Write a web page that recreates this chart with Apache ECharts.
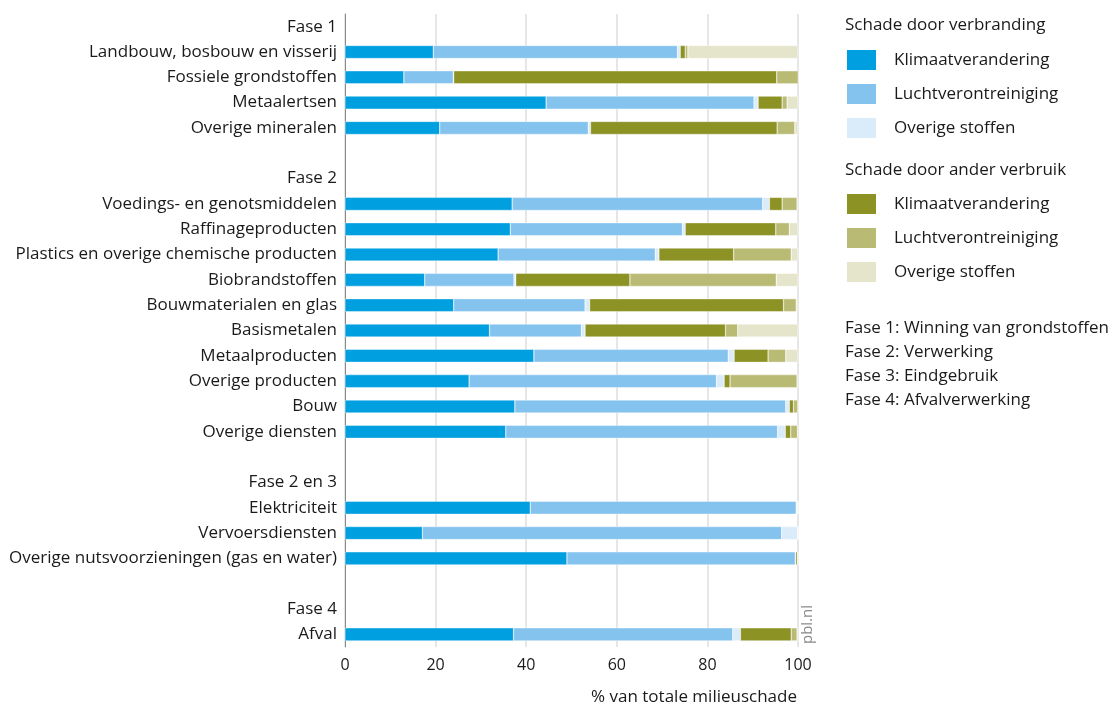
<!DOCTYPE html>
<html>
<head>
<meta charset="utf-8">
<script src="https://cdn.jsdelivr.net/npm/echarts@6/dist/echarts.min.js"></script>
<style>html,body{margin:0;padding:0;background:#fff}#c{width:1110px;height:706px}</style>
</head>
<body>
<div id="c"></div>
<script>
// Categories (headers and blank spacer rows included; spacers are whitespace strings)
const categories = [
  'Fase 1',
  'Landbouw, bosbouw en visserij',
  'Fossiele grondstoffen',
  'Metaalertsen',
  'Overige mineralen',
  ' ',
  'Fase 2',
  'Voedings- en genotsmiddelen',
  'Raffinageproducten',
  'Plastics en overige chemische producten',
  'Biobrandstoffen',
  'Bouwmaterialen en glas',
  'Basismetalen',
  'Metaalproducten',
  'Overige producten',
  'Bouw',
  'Overige diensten',
  '  ',
  'Fase 2 en 3',
  'Elektriciteit',
  'Vervoersdiensten',
  'Overige nutsvoorzieningen (gas en water)',
  '   ',
  'Fase 4',
  'Afval'
];

// Schade door verbranding
const verbrKlimaat = [null, 19.5, 13.0, 44.4, 20.9, null, null, 36.9, 36.5, 33.8, 17.6, 24.0, 31.9, 41.7, 27.4, 37.5, 35.5, null, null, 40.9, 17.1, 49.0, null, null, 37.2];
const verbrLucht   = [null, 53.9, 10.9, 45.9, 32.8, null, null, 55.3, 38.0, 34.7, 19.7, 29.0, 20.3, 42.9, 54.6, 59.8, 60.0, null, null, 58.7, 79.3, 50.4, null, null, 48.4];
const verbrOverig  = [null, 0.6, 0.1, 0.9, 0.5, null, null, 1.5, 0.6, 0.8, 0.4, 1.0, 0.8, 1.3, 1.7, 0.8, 1.7, null, null, 0.2, 3.5, 0.1, null, null, 1.7];
// Schade door ander verbruik
const anderKlimaat = [null, 1.1, 71.3, 5.3, 41.2, null, null, 2.8, 20.0, 16.5, 25.2, 42.8, 31.0, 7.5, 1.3, 0.9, 1.2, null, null, 0.1, 0.1, 0.4, null, null, 11.2];
const anderLucht   = [null, 0.6, 4.8, 1.1, 3.9, null, null, 3.3, 3.0, 12.7, 32.3, 2.8, 2.7, 3.9, 14.8, 1.0, 1.5, null, null, 0.1, 0, 0.1, null, null, 1.3];
const anderOverig  = [null, 24.3, 0, 2.4, 0.7, null, null, 0.2, 1.9, 1.5, 4.8, 0.4, 13.3, 2.7, 0.2, 0, 0.1, null, null, 0, 0, 0, null, null, 0.2];

const xTicks = [0, 20, 40, 60, 80, 100];
const legendTitles = ['Schade door verbranding', 'Schade door ander verbruik'];
const faseNotes = ['Fase 1: Winning van grondstoffen', 'Fase 2: Verwerking', 'Fase 3: Eindgebruik', 'Fase 4: Afvalverwerking'];

const FONT = 'Open Sans';
const TXT = '#1a1a1a';
const colors = ['#009fe0', '#85c3ef', '#daebf9', '#8d9224', '#b9bb75', '#e5e5cb'];
const seriesDefs = [
  ['v|Klimaatverandering', verbrKlimaat],
  ['v|Luchtverontreiniging', verbrLucht],
  ['v|Overige stoffen', verbrOverig],
  ['a|Klimaatverandering', anderKlimaat],
  ['a|Luchtverontreiniging', anderLucht],
  ['a|Overige stoffen', anderOverig]
];

const chart = echarts.init(document.getElementById('c'), null, {renderer: 'canvas'});
const legendCommon = {
  orient: 'vertical', left: 845, padding: 0, itemWidth: 31, itemHeight: 22, itemGap: 10,
  icon: 'rect', selectedMode: false,
  formatter: n => n.split('|')[1],
  textStyle: {fontFamily: FONT, fontSize: 17, color: TXT, lineHeight: 22, padding: [0, 0, 0, 12]}
};
const txt = (s, x, y, extra) => Object.assign({type: 'text', x: x, y: y,
  style: Object.assign({text: s, font: '17px "' + FONT + '"', fill: TXT, textVerticalAlign: 'middle'}, extra || {})});
chart.setOption({
  animation: false,
  color: colors,
  grid: {left: 345, right: 312, top: 14, bottom: 59, containLabel: false},
  xAxis: {
    type: 'value', min: 0, max: 100, interval: 20,
    axisLine: {show: false}, axisTick: {show: false},
    splitLine: {lineStyle: {color: '#dedede', width: 1.5}},
    axisLabel: {fontFamily: FONT, fontSize: 16, color: TXT, margin: 10,
      formatter: v => xTicks.includes(v) ? String(v) : ''}
  },
  yAxis: {
    type: 'category', inverse: true, data: categories,
    axisLine: {lineStyle: {color: '#8a8a8a', width: 1}},
    axisTick: {show: false},
    axisLabel: {interval: 0, fontFamily: FONT, fontSize: 17, color: TXT, margin: 8}
  },
  legend: [
    Object.assign({}, legendCommon, {top: 48, data: seriesDefs.slice(0, 3).map(s => s[0])}),
    Object.assign({}, legendCommon, {top: 192, data: seriesDefs.slice(3).map(s => s[0])})
  ],
  graphic: [
    txt(legendTitles[0], 845, 25),
    txt(legendTitles[1], 845, 170),
    txt(faseNotes[0], 845, 328),
    txt(faseNotes[1], 845, 352),
    txt(faseNotes[2], 845, 376),
    txt(faseNotes[3], 845, 400),
    txt('% van totale milieuschade', 797, 697, {textAlign: 'right'}),
    {type: 'text', x: 800, y: 644, rotation: Math.PI / 2,
      style: {text: 'pbl.nl', font: '15px "' + FONT + '"', fill: '#8a8a8a', textAlign: 'left', textVerticalAlign: 'top'}}
  ],
  series: seriesDefs.map(s => ({
    name: s[0], type: 'bar', stack: 'total', barWidth: 13,
    itemStyle: {borderColor: '#ffffff', borderWidth: 0.4},
    emphasis: {disabled: true},
    data: s[1]
  }))
});
</script>
</body>
</html>
